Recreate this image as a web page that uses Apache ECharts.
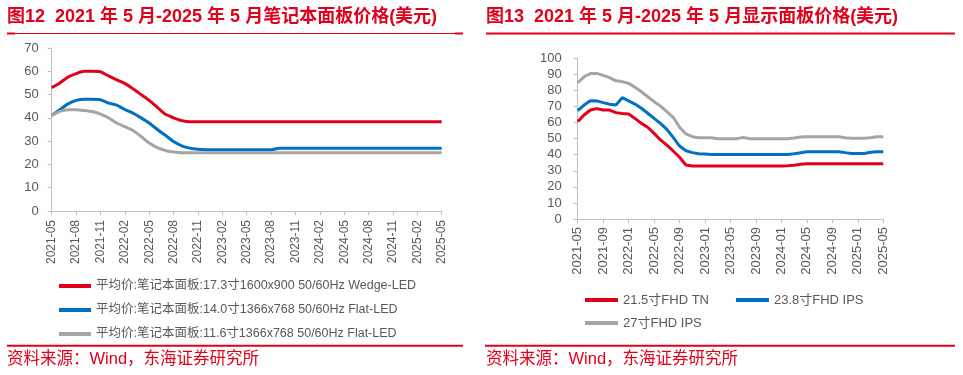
<!DOCTYPE html>
<html>
<head>
<meta charset="utf-8">
<script src="https://cdn.jsdelivr.net/npm/echarts@6/dist/echarts.min.js"></script>
<style>
html,body{margin:0;padding:0;background:#fff;}
#main{width:963px;height:375px;}
</style>
</head>
<body>
<div id="main"></div>
<script>
// 月份 2021-05 ~ 2025-05
var months = [];
for (var y = 2021; y <= 2025; y++) {
    for (var m = 1; m <= 12; m++) {
        if ((y == 2021 && m < 5) || (y == 2025 && m > 5)) continue;
        months.push(y + '-' + (m < 10 ? '0' + m : m));
    }
}

// 图12 笔记本面板
var nbNames = ['平均价:笔记本面板:17.3寸1600x900 50/60Hz Wedge-LED',
               '平均价:笔记本面板:14.0寸1366x768 50/60Hz Flat-LED',
               '平均价:笔记本面板:11.6寸1366x768 50/60Hz Flat-LED'];
var nb173 = [53, 55, 57.5, 59, 60, 60, 59.8, 58, 56.3, 54.8, 52.5, 50, 47.5, 44.5, 41.5, 40, 38.8,
             38.3, 38.3, 38.3, 38.3, 38.3, 38.3, 38.3, 38.3, 38.3, 38.3, 38.3, 38.3, 38.3, 38.3, 38.3, 38.3,
             38.3, 38.3, 38.3, 38.3, 38.3, 38.3, 38.3, 38.3, 38.3, 38.3, 38.3, 38.3, 38.3, 38.3, 38.3, 38.3];
var nb140 = [41, 43.5, 46, 47.5, 48, 48, 47.8, 46.3, 45.5, 43.6, 42, 40, 37.8, 35, 32.5, 29.8, 28,
             27, 26.5, 26.3, 26.3, 26.3, 26.3, 26.3, 26.3, 26.3, 26.3, 26.3, 27, 27, 27, 27, 27,
             27, 27, 27, 27, 27, 27, 27, 27, 27, 27, 27, 27, 27, 27, 27, 27];
var nb116 = [41, 42.8, 43.5, 43.5, 43.2, 42.7, 41.6, 40, 37.8, 36.2, 34.6, 32, 29.2, 27.2, 26, 25.3, 25,
             25, 25, 25, 25, 25, 25, 25, 25, 25, 25, 25, 25, 25, 25, 25, 25,
             25, 25, 25, 25, 25, 25, 25, 25, 25, 25, 25, 25, 25, 25, 25, 25];

// 图13 显示面板
var mnNames = ['21.5寸FHD TN', '23.8寸FHD IPS', '27寸FHD IPS'];
var mn215 = [60.6, 64.7, 67.8, 68.7, 67.8, 67.8, 66.2, 65.7, 65.3, 62.6, 59.5, 57.1, 53.3, 49.2, 46, 42.3, 38.4,
             33.6, 33, 33, 33, 33, 33, 33, 33, 33, 33, 33, 33, 33, 33, 33, 33,
             33.2, 33.5, 34, 34.4, 34.4, 34.4, 34.4, 34.4, 34.4, 34.4, 34.4, 34.4, 34.4, 34.4, 34.4, 34.4];
var mn238 = [67.4, 70.9, 73.6, 73.5, 72.4, 71.4, 70.9, 75.5, 73.5, 71.5, 68.9, 65.8, 62.6, 59.5, 55.8, 50.8, 45.4,
             42.5, 41.3, 40.6, 40.4, 40.2, 40.2, 40.2, 40.2, 40.2, 40.2, 40.2, 40.2, 40.2, 40.2, 40.2, 40.2,
             40.2, 40.6, 41.2, 41.9, 41.9, 41.9, 41.9, 41.9, 41.9, 41.3, 40.8, 40.8, 40.8, 41.5, 41.9, 41.9];
var mn27 = [84.8, 88.5, 90.5, 90.6, 89.4, 88, 86, 85.5, 84.4, 82, 79.2, 76.1, 73, 70.3, 66.8, 63.3, 57.1,
            52.9, 51.2, 50.6, 50.6, 50.6, 50, 50, 50, 50, 50.8, 50, 50, 50, 50, 50, 50,
            50, 50.4, 51, 51.2, 51.2, 51.2, 51.2, 51.2, 51.2, 50.5, 50.2, 50.2, 50.2, 50.6, 51.2, 51.2];

var RED = '#e0001b', BLUE = '#0070c0', GRAY = '#a5a5a5';
var FONT = '"Liberation Sans", Arial, "Noto Sans CJK SC", sans-serif';
var AX = '#bfbfbf', TXT = '#595959';

function xAxisOf(gi, step, fs, margin) {
    return {
        type: 'category', gridIndex: gi, data: months, boundaryGap: false,
        axisLine: {lineStyle: {color: AX}},
        axisTick: {interval: step - 1, length: 4, lineStyle: {color: AX}},
        axisLabel: {interval: step - 1, rotate: 90, color: TXT, fontSize: fs, fontFamily: FONT, margin: margin}
    };
}
function yAxisOf(gi, max, margin) {
    return {
        type: 'value', gridIndex: gi, min: 0, max: max, interval: 10,
        axisLine: {show: true, lineStyle: {color: AX}},
        axisTick: {show: true, length: 4, lineStyle: {color: AX}},
        splitLine: {show: false},
        axisLabel: {color: TXT, fontSize: 13, fontFamily: FONT, margin: margin}
    };
}
function lineOf(name, gi, data, color, smooth) {
    return {
        name: name, type: 'line', xAxisIndex: gi, yAxisIndex: gi, data: data,
        symbol: 'none', smooth: smooth, lineStyle: {color: color, width: 3},
        itemStyle: {color: color}, z: 3
    };
}

var chart = echarts.init(document.getElementById('main'));
chart.setOption({
    animation: false,
    title: [
        {text: '图12  2021 年 5 月-2025 年 5 月笔记本面板价格(美元)', left: 7, top: 8, padding: 0,
         textStyle: {color: RED, fontSize: 18, fontWeight: 'bold', fontFamily: FONT}},
        {text: '图13  2021 年 5 月-2025 年 5 月显示面板价格(美元)', left: 486, top: 8, padding: 0,
         textStyle: {color: RED, fontSize: 18, fontWeight: 'bold', fontFamily: FONT}}
    ],
    grid: [
        {left: 51.7, top: 48, width: 390, height: 163},
        {left: 577.7, top: 58.3, width: 305.6, height: 160.7}
    ],
    xAxis: [xAxisOf(0, 3, 12, 9), xAxisOf(1, 4, 13, 8)],
    yAxis: [yAxisOf(0, 70, 13), yAxisOf(1, 100, 16)],
    legend: [
        {data: nbNames, orient: 'vertical', left: 59, top: 279, itemGap: 10, itemWidth: 32, itemHeight: 4,
         icon: 'rect', padding: 0, textStyle: {color: TXT, fontSize: 12.5, fontFamily: FONT, lineHeight: 14}},
        {data: [mnNames[0], mnNames[1]], left: 585, top: 293, itemGap: 27, itemWidth: 33, itemHeight: 4,
         icon: 'rect', padding: 0, textStyle: {color: TXT, fontSize: 13, fontFamily: FONT, lineHeight: 14}},
        {data: [mnNames[2]], left: 585, top: 316, itemWidth: 33, itemHeight: 4,
         icon: 'rect', padding: 0, textStyle: {color: TXT, fontSize: 13, fontFamily: FONT, lineHeight: 14}}
    ],
    series: [
        lineOf(nbNames[0], 0, nb173, RED, 0.2),
        lineOf(nbNames[1], 0, nb140, BLUE, 0.2),
        lineOf(nbNames[2], 0, nb116, GRAY, 0.2),
        lineOf(mnNames[0], 1, mn215, RED, false),
        lineOf(mnNames[1], 1, mn238, BLUE, false),
        lineOf(mnNames[2], 1, mn27, GRAY, false)
    ],
    graphic: [
        {type: 'rect', shape: {x: 7, y: 33, width: 456, height: 1}, style: {fill: RED}},
        {type: 'rect', shape: {x: 7, y: 32.5, width: 8, height: 2}, style: {fill: RED}},
        {type: 'rect', shape: {x: 455, y: 32.5, width: 8, height: 2}, style: {fill: RED}},
        {type: 'rect', shape: {x: 486, y: 32.5, width: 469, height: 2}, style: {fill: RED}},
        {type: 'rect', shape: {x: 7, y: 344.7, width: 456, height: 2}, style: {fill: RED}},
        {type: 'rect', shape: {x: 485, y: 344.7, width: 470, height: 2}, style: {fill: RED}},
        {type: 'text', style: {text: '资料来源：Wind，东海证券研究所', x: 7, y: 359, fill: RED,
            fontSize: 16.5, fontFamily: FONT, verticalAlign: 'middle'}},
        {type: 'text', style: {text: '资料来源：Wind，东海证券研究所', x: 486, y: 359, fill: RED,
            fontSize: 16.5, fontFamily: FONT, verticalAlign: 'middle'}}
    ]
});
</script>
</body>
</html>
